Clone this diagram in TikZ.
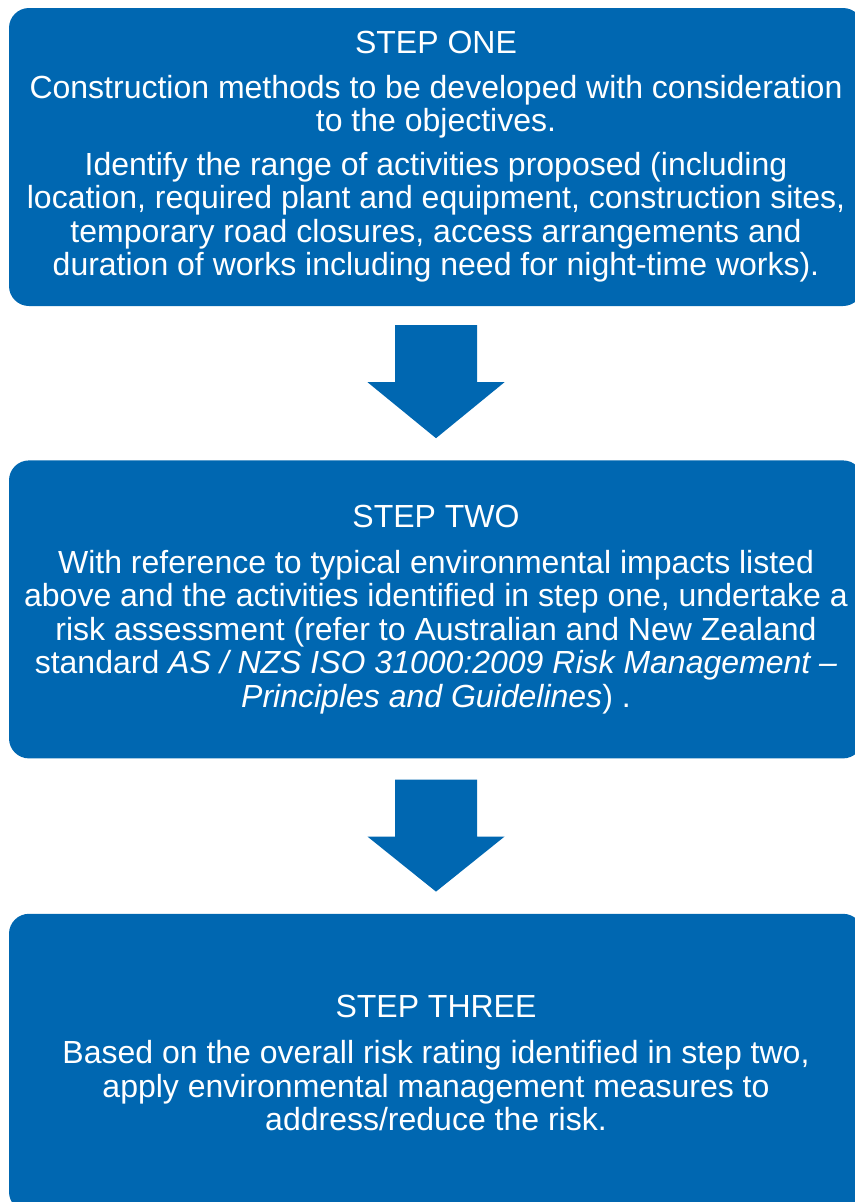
\documentclass[tikz,border=0pt]{standalone}
\usepackage{fontspec}
\setmainfont{Liberation Sans}
\usetikzlibrary{positioning,calc}

\definecolor{stepblue}{RGB}{0,103,177}

\tikzset{
  stepbox/.style={fill=stepblue, text=white, rounded corners=20pt,
    minimum width=854pt, minimum height=298pt, inner sep=0pt,
    align=center, font=\fontsize{32}{33.5}\selectfont},
  downarrow/.style={fill=stepblue}
}

\begin{document}
\begin{tikzpicture}[x=1pt,y=-1pt]
        \useasboundingbox (0,0) rectangle (854,1202);

        \node[stepbox] (one) at (436,157) {STEP ONE\\[11pt]
        Construction methods to be developed with consideration\\
        to the objectives.\\[10pt]
        Identify the range of activities proposed (including\\
        location, required plant and equipment, construction sites,\\
        temporary road closures, access arrangements and\\
        duration of works including need for night-time works).};

        \node[stepbox, below=154pt of one] (two) {STEP TWO\\[12pt]
        With reference to typical environmental impacts listed\\
        above and the activities identified in step one, undertake a\\
        risk assessment (refer to Australian and New Zealand\\
        standard \textit{AS / NZS ISO 31000:2009 Risk Management –}\\
        \textit{Principles and Guidelines}) .};

        \node[stepbox, below=155pt of two] (three) {STEP THREE\\[13pt]
        Based on the overall risk rating identified in step two,\\
        apply environmental management measures to\\
        address/reduce the risk.};

        % block arrows between the steps
        \fill[downarrow] ($(one.south)+(-41,19)$) -- ++(82,0) -- ++(0,57)
        -- ++(27.5,0) -- ($(one.south)+(0,132)$)
        -- ($(one.south)+(-68.5,76)$) -- ++(27.5,0) -- cycle;

        \fill[downarrow] ($(two.south)+(-41,21)$) -- ++(82,0) -- ++(0,57)
        -- ++(27.5,0) -- ($(two.south)+(0,133)$)
        -- ($(two.south)+(-68.5,78)$) -- ++(27.5,0) -- cycle;
\end{tikzpicture}
\end{document}
